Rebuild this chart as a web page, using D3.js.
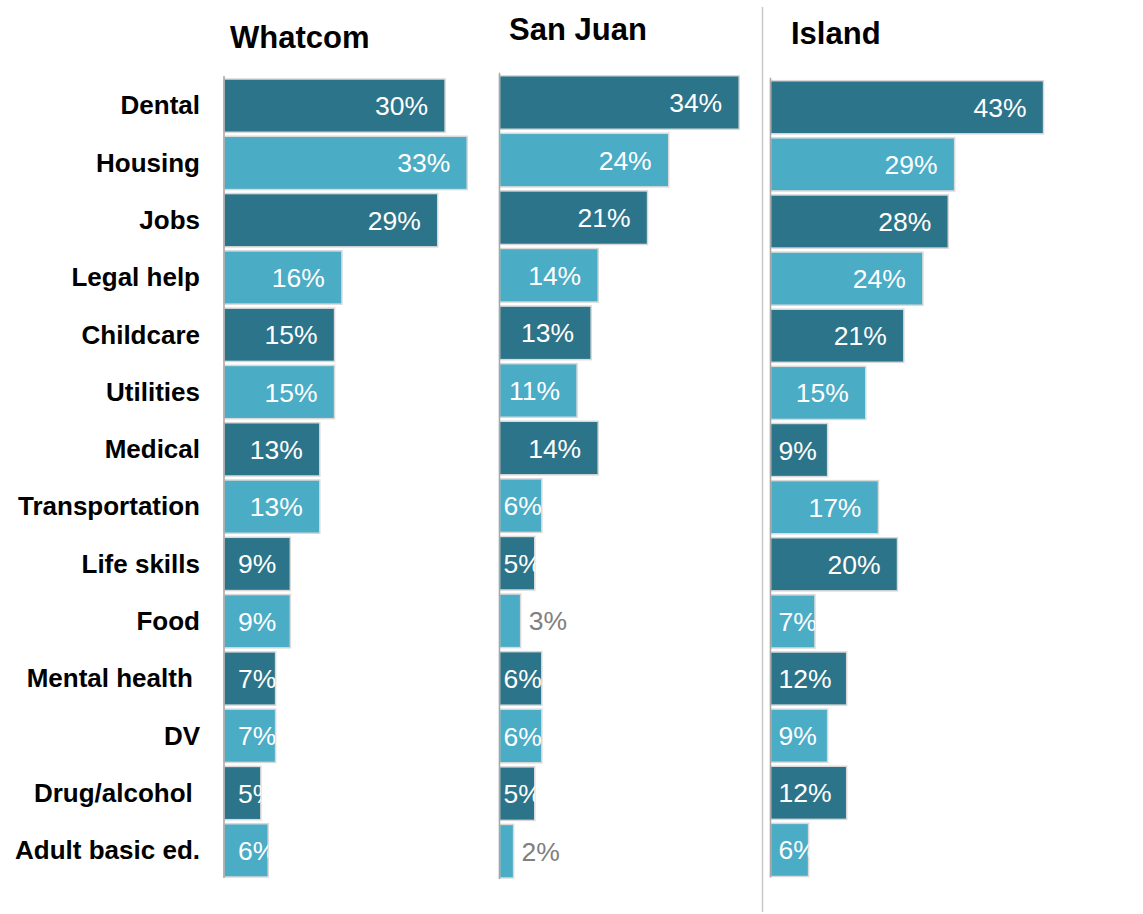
<!DOCTYPE html>
<html>
<head>
<meta charset="utf-8">
<script src="https://cdn.jsdelivr.net/npm/d3@7/dist/d3.min.js"></script>
<style>
  html, body { margin: 0; padding: 0; background: #fff; }
  svg { display: block; font-family: Arial, "Liberation Sans", sans-serif; }
</style>
</head>
<body>
<svg id="chart" width="1143" height="914"></svg>
<script>
// Service needs by county (% of respondents)
const categories = ["Dental", "Housing", "Jobs", "Legal help", "Childcare", "Utilities", "Medical",
  "Transportation", "Life skills", "Food", "Mental health ", "DV", "Drug/alcohol ", "Adult basic ed."];
const whatcom = [30, 33, 29, 16, 15, 15, 13, 13, 9, 9, 7, 7, 5, 6];
const sanJuan = [34, 24, 21, 14, 13, 11, 14, 6, 5, 3, 6, 6, 5, 2];
const island  = [43, 29, 28, 24, 21, 15, 9, 17, 20, 7, 12, 9, 12, 6];
const panelTitles = ["Whatcom", "San Juan", "Island"];

// Layout of each small-multiple panel
const panels = [
  { title: panelTitles[0], values: whatcom, x0: 224,   span: 368.5, y0: 77,   y1: 879,   tx: 230, ty: 48, inset: 14 },
  { title: panelTitles[1], values: sanJuan, x0: 499.5, span: 352.5, y0: 73.7, y1: 880,   tx: 509, ty: 40, inset: 4 },
  { title: panelTitles[2], values: island,  x0: 770.5, span: 317.5, y0: 78.7, y1: 878.5, tx: 791, ty: 44, inset: 8 }
];

const dark = "#2c7489", light = "#4bacc6";
const svg = d3.select("#chart");
const defs = svg.append("defs");
const valueFont = 26.5;

// measure label widths with a hidden text node
const probe = svg.append("text").attr("font-size", valueFont).attr("visibility", "hidden");
function textWidth(s) { probe.text(s); return probe.node().getComputedTextLength(); }

// divider between the second and third panels
svg.append("line")
  .attr("x1", 762.5).attr("x2", 762.5).attr("y1", 7).attr("y2", 912)
  .attr("stroke", "#c8c8c8").attr("stroke-width", 1.5);

panels.forEach((p, pi) => {
  const x = d3.scaleLinear().domain([0, 50]).range([p.x0, p.x0 + p.span]);
  const y = d3.scaleBand().domain(categories).range([p.y0, p.y1])
    .paddingInner(0.07).paddingOuter(0.035);

  const g = svg.append("g");

  // panel title
  g.append("text")
    .attr("x", p.tx).attr("y", p.ty)
    .attr("font-size", 31).attr("font-weight", "bold").attr("fill", "#000")
    .text(p.title);

  // category labels (left of the first panel only)
  if (pi === 0) {
    g.selectAll("text.cat").data(categories).join("text")
      .attr("class", "cat")
      .attr("x", 200)
      .attr("y", d => y(d) + y.bandwidth() / 2)
      .attr("dy", "0.34em")
      .attr("text-anchor", "end")
      .attr("font-size", 26).attr("font-weight", "bold").attr("fill", "#000")
      .style("white-space", "pre")
      .text(d => d);
  }

  // bars
  g.selectAll("rect.bar").data(p.values).join("rect")
    .attr("class", "bar")
    .attr("x", x(0))
    .attr("y", (d, i) => y(categories[i]))
    .attr("width", d => x(d) - x(0))
    .attr("height", y.bandwidth())
    .attr("fill", (d, i) => i % 2 === 0 ? dark : light)
    .attr("stroke", "#d9d9d9").attr("stroke-width", 1.5);

  // value axis line
  g.append("line")
    .attr("x1", p.x0).attr("x2", p.x0)
    .attr("y1", p.y0 - 1).attr("y2", p.y1 - 1)
    .attr("stroke", "#a6a6a6").attr("stroke-width", 1.5);

  // value labels: inside the bar end, or outside in grey for very short bars
  p.values.forEach((v, i) => {
    const label = v + "%";
    const yc = y(categories[i]) + y.bandwidth() / 2;
    const end = x(v);
    if (v < 4) {
      g.append("text")
        .attr("x", end + 8).attr("y", yc).attr("dy", "0.36em")
        .attr("font-size", valueFont).attr("fill", "#808080")
        .text(label);
    } else {
      const w = textWidth(label);
      const start = Math.max(end - 17 - w, p.x0 + p.inset);
      const clipId = `clip-${pi}-${i}`;
      defs.append("clipPath").attr("id", clipId).append("rect")
        .attr("x", x(0)).attr("y", y(categories[i]))
        .attr("width", end - x(0)).attr("height", y.bandwidth());
      g.append("text")
        .attr("x", start).attr("y", yc).attr("dy", "0.36em")
        .attr("font-size", valueFont).attr("fill", "#fff")
        .attr("clip-path", `url(#${clipId})`)
        .text(label);
    }
  });
});
probe.remove();
</script>
</body>
</html>
